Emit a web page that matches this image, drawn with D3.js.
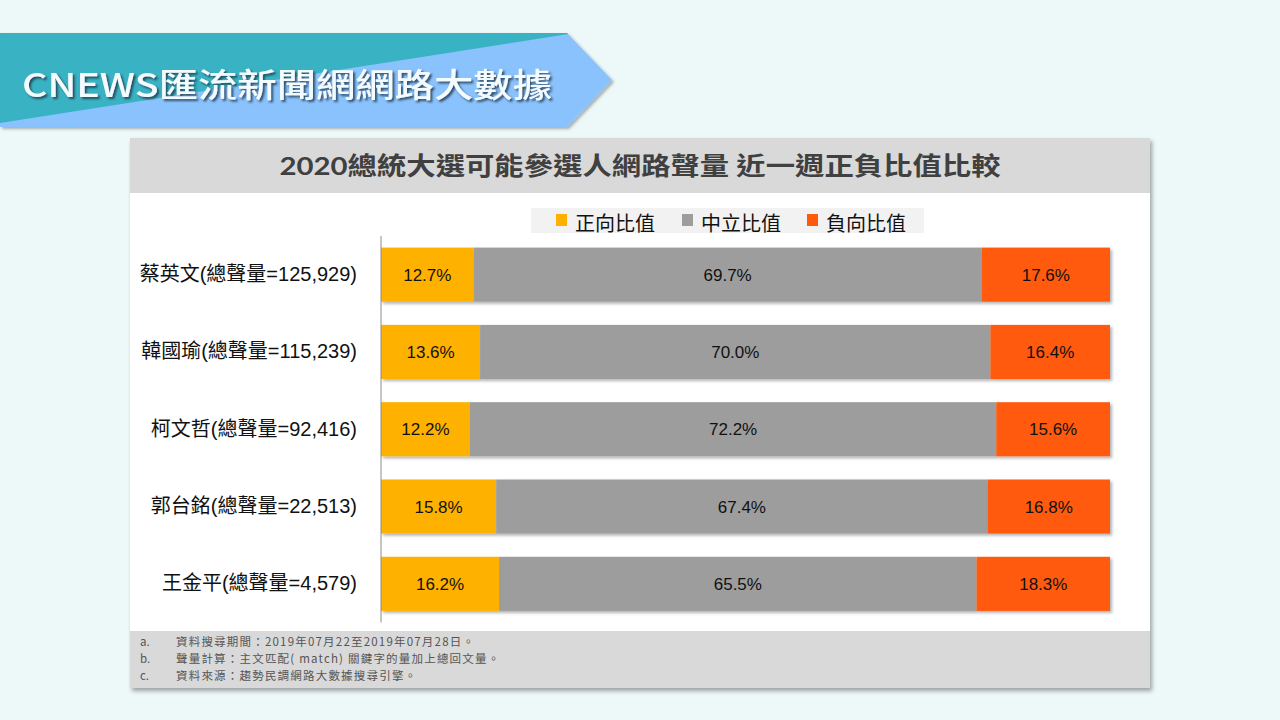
<!DOCTYPE html>
<html><head><meta charset="utf-8">
<script src="https://cdn.jsdelivr.net/npm/d3@7"></script>
<style>
html,body{margin:0;padding:0;background:#EDF8F8;}
svg{display:block;}
</style></head>
<body>
<svg id="c" width="1280" height="720"></svg>
<script>
const names = ["蔡英文","韓國瑜","柯文哲","郭台銘","王金平"];
const totals = ["125,929","115,239","92,416","22,513","4,579"];
const positive = [12.7, 13.6, 12.2, 15.8, 16.2];
const neutral = [69.7, 70.0, 72.2, 67.4, 65.5];
const negative = [17.6, 16.4, 15.6, 16.8, 18.3];
const seriesNames = ["正向比值","中立比值","負向比值"];
const seriesColors = ["#FFB100","#9D9D9D","#FF5A09"];
const notes = [
  ["a.","資料搜尋期間：2019年07月22至2019年07月28日。"],
  ["b.","聲量計算：主文匹配( match) 關鍵字的量加上總回文量。"],
  ["c.","資料來源：趨勢民調網路大數據搜尋引擎。"]
];
const title = "2020總統大選可能參選人網路聲量 近一週正負比值比較";
const banner = "CNEWS匯流新聞網網路大數據";

const svg = d3.select("#c");
const defs = svg.append("defs");
const sh = defs.append("filter").attr("id","sh").attr("x","-5%").attr("y","-5%").attr("width","115%").attr("height","125%");
sh.append("feDropShadow").attr("dx",2).attr("dy",3).attr("stdDeviation",2).attr("flood-color","#000").attr("flood-opacity",0.35);
const bsh = defs.append("filter").attr("id","bsh").attr("x","-5%").attr("y","-10%").attr("width","115%").attr("height","140%");
bsh.append("feDropShadow").attr("dx",2).attr("dy",2).attr("stdDeviation",1.5).attr("flood-color","#000").attr("flood-opacity",0.3);
const tsh = defs.append("filter").attr("id","tsh").attr("x","-5%").attr("y","-20%").attr("width","110%").attr("height","160%");
tsh.append("feDropShadow").attr("dx",2).attr("dy",2).attr("stdDeviation",1.2).attr("flood-color","#1a3a50").attr("flood-opacity",0.85);
const clip = defs.append("clipPath").attr("id","bclip");
clip.append("path").attr("d","M0,33 L567,33 L612,80 L567,127 L0,127 Z");

// banner
const bg = svg.append("g");
bg.append("path").attr("d","M0,33 L567,33 L612,80 L567,127 L0,127 Z").attr("fill","#8AC2FD").attr("filter","url(#bsh)");
bg.append("path").attr("clip-path","url(#bclip)").attr("d","M0,33 L575,33 L0,123 Z").attr("fill","#39B3C3");
bg.append("text").attr("x",22).attr("y",97).attr("font-family","'Noto Sans CJK TC','Noto Sans',sans-serif")
  .attr("font-size",33).attr("font-weight",500).attr("fill","#F4FBFF").attr("filter","url(#tsh)")
  .attr("textLength",530).attr("lengthAdjust","spacingAndGlyphs").text(banner);

// panel
svg.append("rect").attr("x",130).attr("y",138).attr("width",1020).attr("height",550).attr("fill","#fff").attr("filter","url(#sh)");
svg.append("rect").attr("x",130).attr("y",138).attr("width",1020).attr("height",55).attr("fill","#D9D9D9");
svg.append("rect").attr("x",130).attr("y",631).attr("width",1020).attr("height",57).attr("fill","#D9D9D9");
svg.append("text").attr("x",640).attr("y",175).attr("text-anchor","middle")
  .attr("font-family","Lato,'Noto Sans CJK TC',sans-serif").attr("font-size",25).attr("font-weight",700)
  .attr("fill","#404040").attr("textLength",721).attr("lengthAdjust","spacingAndGlyphs").text(title);

// legend
svg.append("rect").attr("x",531).attr("y",208).attr("width",393).attr("height",25).attr("fill","#F2F2F2");
const legX = [556, 682, 807];
seriesNames.forEach((s,i)=>{
  svg.append("rect").attr("x",legX[i]).attr("y",214).attr("width",11).attr("height",12).attr("fill",seriesColors[i]);
  svg.append("text").attr("x",legX[i]+19).attr("y",231).attr("font-family","'Noto Sans CJK TC',sans-serif")
    .attr("font-size",20).attr("fill","#111").text(s);
});

// chart
const x = d3.scaleLinear().domain([0,100]).range([381,1110]);
const y = d3.scaleBand().domain(names).range([236,622.5]).paddingInner(0.3).paddingOuter(0.15);
const rows = names.map((n,i)=>({name:n,total:totals[i],vals:[positive[i],neutral[i],negative[i]]}));
const stackData = rows.map(r=>({name:r.name,p:r.vals[0],n:r.vals[1],g:r.vals[2]}));
const stack = d3.stack().keys(["p","n","g"])(stackData);

const barG = svg.append("g").attr("filter","url(#bsh)");
stack.forEach((layer,k)=>{
  barG.selectAll(null).data(layer).enter().append("rect")
    .attr("x",d=>x(d[0])).attr("width",d=>x(d[1])-x(d[0]))
    .attr("y",d=>y(d.data.name)).attr("height",y.bandwidth())
    .attr("fill",seriesColors[k]);
});
stack.forEach((layer,k)=>{
  svg.selectAll(null).data(layer).enter().append("text")
    .attr("x",d=>(x(d[0])+x(d[1]))/2).attr("y",d=>y(d.data.name)+y.bandwidth()/2+6)
    .attr("text-anchor","middle").attr("font-family","Arial,'Liberation Sans',sans-serif")
    .attr("font-size",17).attr("fill","#111").text(d=>(d[1]-d[0]).toFixed(1)+"%");
});

const yAxis = d3.axisLeft(y).tickSize(0).tickPadding(24).tickFormat((d,i)=>d+"(總聲量="+totals[i]+")");
const ag = svg.append("g").attr("transform","translate(381,0)").call(yAxis);
ag.select(".domain").attr("stroke","#8c8c8c").attr("d","M0,236V622.5");
ag.selectAll("text").attr("font-family","Arial,'Noto Sans CJK TC',sans-serif").attr("font-size",20).attr("fill","#111");

// notes
notes.forEach((n,i)=>{
  const yy = 646 + i*17;
  svg.append("text").attr("x",140).attr("y",yy).attr("font-family","'Noto Sans CJK TC',sans-serif").attr("font-size",11.5).attr("fill","#555").text(n[0]);
  svg.append("text").attr("x",176).attr("y",yy).attr("font-family","'Noto Sans CJK TC',sans-serif").attr("font-size",11.5).attr("letter-spacing",1.2).attr("fill","#555").text(n[1]);
});
</script>
</body></html>
